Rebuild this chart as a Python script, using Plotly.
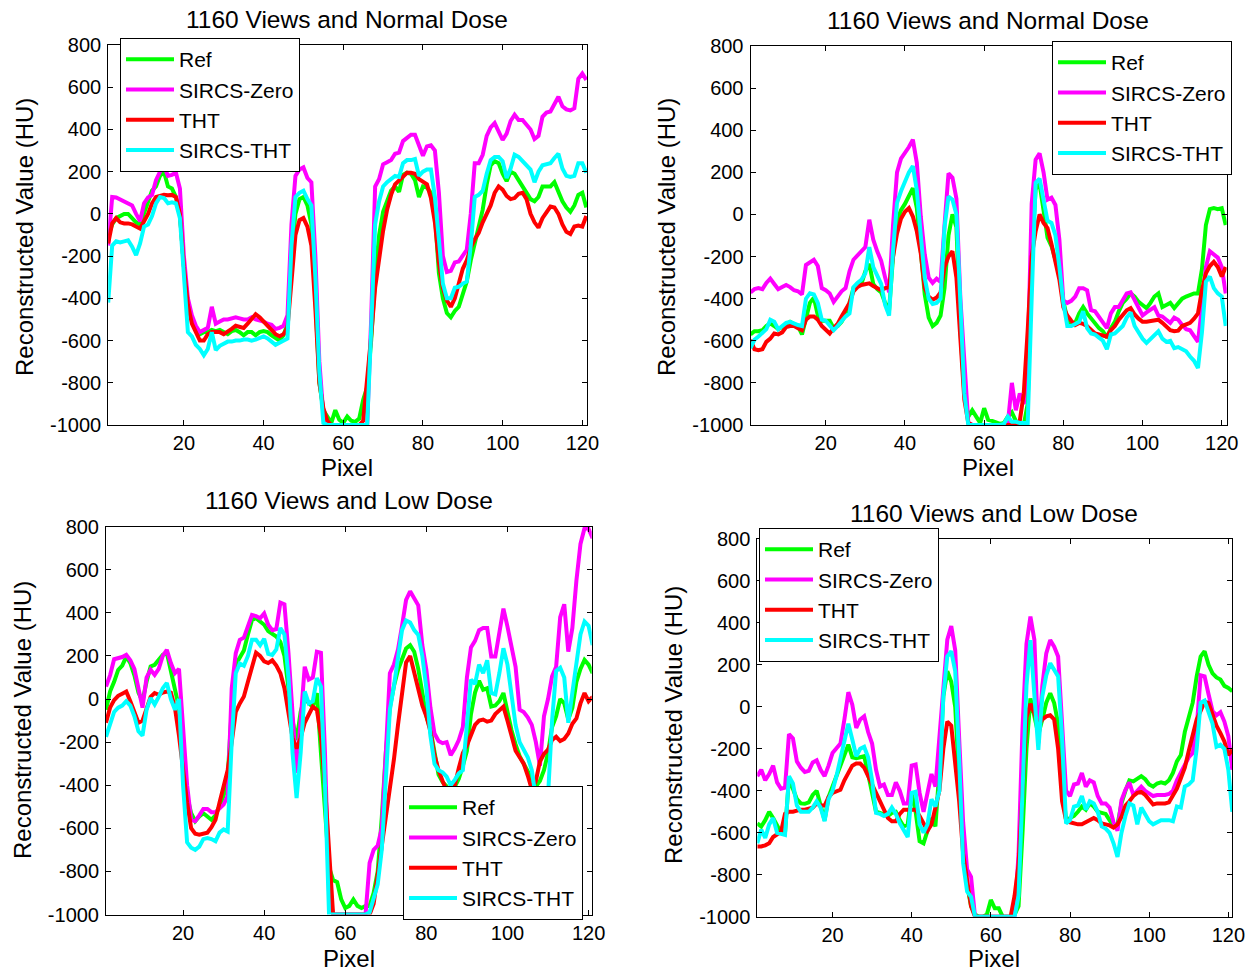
import plotly.graph_objects as go

# ---------------- data ----------------
pixels = list(range(1, 122))
series_names = ["Ref", "SIRCS-Zero", "THT", "SIRCS-THT"]
series_colors = ["#00FF00", "#FF00FF", "#FF0000", "#00FFFF"]
titles = ["1160 Views and Normal Dose", "1160 Views and Normal Dose",
          "1160 Views and Low Dose", "1160 Views and Low Dose"]
x_ticks = [20, 40, 60, 80, 100, 120]
y_ticks = [-1000, -800, -600, -400, -200, 0, 200, 400, 600, 800]
y_tick_labels = ["-1000", "-800", "-600", "-400", "-200", "0", "200", "400", "600", "800"]

# Panel 1: 1160 views, normal dose (top left)
p1_ref = [-100, -50, -20, -10, 0, 0, -20, -40, -50, 0, 60, 110, 130, 180, 200, 130, 120, 80, 0, -250,
          -420, -500, -550, -570, -560, -560, -550, -555, -550, -560, -570, -555, -550, -560, -575, -560, -560, -575, -560, -555,
          -560, -575, -590, -600, -575, -520, -200, 0, 70, 80, 40, -50, -400, -800, -930, -960, -990, -930, -975, -990,
          -960, -980, -985, -970, -880, -820, -600, -300, -100, 10, 60, 110, 130, 105, 185, 195, 190, 160, 80, 130,
          125, 100, 0, -280, -400, -470, -490, -460, -440, -380, -320, -220, -140, -70, 20, 140, 230, 250, 240, 190,
          155, 200, 190, 160, 130, 105, 70, 60, 80, 130, 130, 130, 150, 100, 60, 30, 10, 40, 90, 100, 30]
p1_zero = [-150, 80, 78, 68, 60, 52, 40, 0, -35, 50, 78, 90, 160, 200, 225, 180, 185, 195, 120, -200,
           -400, -480, -530, -560, -550, -540, -440, -520, -510, -500, -500, -495, -490, -495, -500, -500, -490, -500, -505, -510,
           -520, -525, -545, -540, -530, -480, -50, 180, 210, 220, 170, 150, -200, -700, -950, -1000, -1000, -1000, -1000, -1000,
           -1000, -1000, -1000, -1000, -1000, -1000, -500, 130, 165, 235, 245, 255, 285, 290, 345, 360, 375, 375, 330, 275,
           320, 325, 300, 100, -200, -275, -270, -230, -225, -200, -170, 0, 240, 240, 280, 370, 410, 430, 395, 350,
           380, 440, 470, 445, 445, 420, 400, 355, 370, 460, 480, 485, 520, 555, 510, 495, 490, 500, 640, 665, 635]
p1_tht = [-140, -45, -20, -40, -45, -45, -50, -60, -70, -35, 0, 50, 80, 85, 90, 88, 90, 80, 0, -250,
          -430, -520, -560, -600, -600, -570, -560, -560, -560, -570, -560, -545, -530, -535, -540, -520, -500, -475, -490, -510,
          -530, -550, -570, -580, -570, -540, -300, -100, -30, -20, -60, -150, -450, -800, -920, -980, -1000, -1000, -1000, -1000,
          -1000, -1000, -1000, -1000, -980, -800, -580, -350, -200, -80, 20, 90, 140, 160, 180, 195, 195, 190, 165, 150,
          140, 75, -40, -230, -350, -410, -440, -400, -330, -260, -220, -160, -120, -90, -40, 0, 40, 100, 130, 115,
          85, 70, 75, 95, 100, 70, 0, -40, -65, -20, 10, 35, 30, 0, -50, -85, -95, -60, -55, -60, -10]
p1_stht = [-420, -150, -130, -135, -130, -125, -155, -195, -140, -60, -50, -10, 50, 80, 75, 50, 55, 50, -20, -300,
           -560, -580, -620, -640, -670, -640, -560, -645, -625, -615, -605, -605, -600, -600, -595, -595, -600, -595, -585, -580,
           -590, -605, -620, -610, -600, -590, -150, 80, 100, 110, 70, 40, -300, -750, -990, -1000, -1000, -1000, -1000, -1000,
           -1000, -1000, -1000, -1000, -1000, -1000, -550, -50, 60, 130, 150, 165, 180, 175, 240, 255, 255, 260, 180, 200,
           210, 210, 80, -120, -330, -400, -400, -350, -345, -330, -320, -150, 80, 90, 110, 190, 255, 270, 270, 250,
           170, 215, 280, 270, 250, 225, 210, 150, 200, 230, 235, 240, 265, 285, 215, 180, 175, 180, 240, 240, 195]

# Panel 2: 1160 views, normal dose (top right)
p2_ref = [-570, -555, -555, -550, -530, -517, -530, -545, -535, -520, -510, -520, -530, -570, -490, -420, -395, -480, -505, -505,
          -505, -540, -530, -510, -475, -420, -350, -340, -330, -270, -235, -330, -355, -370, -420, -455, -200, -30, 20, 50,
          90, 125, 30, -180, -380, -490, -530, -515, -480, -350, -100, 0, -60, -550, -850, -960, -930, -960, -990, -920,
          -975, -980, -990, -995, -990, -960, -940, -980, -1000, -1000, -900, -200, 120, 145, 20, -110, -150, -220, -280, -410,
          -500, -525, -515, -470, -440, -470, -495, -515, -540, -555, -585, -540, -510, -460, -420, -400, -375, -390, -415, -430,
          -445, -420, -390, -375, -440, -430, -420, -445, -420, -400, -390, -380, -375, -375, -260, -50, 25, 30, 25, 30, -50]
p2_zero = [-370, -355, -350, -355, -325, -305, -330, -355, -345, -335, -345, -360, -365, -380, -240, -225, -215, -245, -350, -360,
           -375, -415, -390, -365, -350, -270, -215, -195, -175, -155, -25, -120, -175, -220, -300, -370, -50, 200, 265, 290,
           320, 355, 245, -10, -190, -300, -325, -305, -320, -50, 195, 175, 75, -400, -720, -990, -1000, -1000, -1000, -1000,
           -1000, -1000, -1000, -1000, -1000, -990, -800, -930, -850, -900, -700, 50, 260, 290, 200, 70, 80, 45, -120, -410,
           -420, -410, -390, -350, -350, -360, -455, -460, -485, -510, -540, -470, -440, -440, -405, -375, -370, -405, -445, -480,
           -465, -455, -440, -480, -485, -500, -515, -490, -500, -525, -545, -550, -575, -605, -440, -250, -175, -190, -205, -250, -375]
p2_tht = [-595, -640, -645, -640, -605, -590, -565, -570, -560, -535, -530, -530, -540, -550, -500, -485, -485, -500, -530, -550,
          -565, -540, -520, -485, -450, -420, -365, -345, -335, -330, -327, -340, -350, -360, -350, -345, -200, -90, -20, 13,
          30, -10, -80, -185, -350, -390, -405, -395, -370, -250, -200, -175, -300, -630, -880, -990, -1000, -1000, -1000, -1000,
          -1000, -1000, -1000, -1000, -1000, -1000, -1000, -1000, -980, -850, -550, -200, -80, 0, -40, -65, -140, -230, -310, -440,
          -480, -505, -525, -515, -520, -530, -550, -565, -570, -575, -580, -550, -530, -500, -475, -455, -445, -475, -495, -510,
          -510, -508, -503, -500, -515, -530, -550, -555, -552, -530, -520, -515, -495, -470, -360, -280, -245, -225, -250, -295, -250]
p2_stht = [-635, -595, -580, -565, -545, -500, -510, -545, -530, -515, -510, -520, -525, -530, -400, -375, -380, -420, -500, -505,
           -525, -550, -530, -505, -485, -470, -345, -325, -310, -280, -155, -250, -290, -330, -430, -480, -170, 55, 110, 160,
           200, 230, 115, -100, -300, -400, -425, -420, -400, -60, 85, 70, 0, -420, -850, -1000, -1000, -1000, -1000, -1000,
           -1000, -1000, -1000, -1000, -995, -960, -985, -985, -990, -990, -990, -400, 150, 170, 80, -30, -40, -100, -250, -420,
           -530, -530, -520, -510, -460, -540, -565, -570, -585, -600, -640, -570, -565, -550, -530, -490, -465, -530, -565, -590,
           -610, -590, -575, -555, -590, -605, -600, -635, -630, -640, -650, -675, -695, -730, -560, -320, -295, -350, -375, -390, -530]

# Panel 3: 1160 views, low dose (bottom left)
p3_ref = [-50, 35, 80, 135, 155, 197, 167, 110, 30, -10, 80, 151, 159, 180, 205, 215, 136, 40, -40, -250,
          -450, -530, -567, -545, -530, -545, -560, -540, -500, -450, -360, -50, 160, 190, 225, 300, 367, 375, 360, 345,
          315, 300, 290, 265, 200, 50, -100, -190, -60, 12, -20, -35, 28, -250, -550, -780, -840, -850, -930, -970,
          -960, -930, -960, -970, -960, -960, -900, -800, -550, -250, -40, 60, 135, 190, 235, 250, 220, 140, 40, -80,
          -140, -250, -350, -385, -405, -445, -410, -370, -310, -240, -70, 30, 85, 43, 50, -35, -30, -10, 28, -60,
          -145, -210, -265, -300, -335, -370, -405, -380, -330, -250, -130, -80, 0, -20, -95, -40, 80, 140, 182, 160, 120]
p3_zero = [58, 110, 185, 190, 195, 205, 180, 140, 50, -40, 100, 136, 112, 140, 200, 228, 167, 120, 140, -150,
           -400, -560, -567, -540, -510, -510, -525, -525, -510, -490, -450, 50, 213, 275, 285, 340, 390, 385, 375, 397,
           345, 320, 325, 448, 440, 213, -95, -343, -100, 150, 90, 100, 220, 215, -250, -900, -1000, -1000, -1000, -1000,
           -1000, -1000, -1000, -1000, -1000, -760, -700, -680, -600, -250, 120, 160, 230, 340, 460, 500, 470, 435, 250, 136,
           -40, -160, -195, -205, -200, -260, -230, -190, -130, 100, 240, 270, 320, 330, 330, 197, 197, 300, 420, 336,
           250, 150, -50, -60, -85, -120, -200, -310, -80, 0, 105, 150, 380, 440, 220, 330, 550, 720, 793, 790, 746]
p3_tht = [-110, -40, -5, 15, 25, 35, -10, -60, -110, -100, -40, 10, 28, 20, 30, 35, 30, -40, -170, -330,
          -480, -600, -625, -630, -625, -620, -595, -560, -480, -410, -330, -200, -60, -20, 12, 80, 150, 215, 200, 175,
          167, 180, 155, 120, 50, -60, -180, -230, -180, -110, -70, -35, -50, -170, -400, -700, -1000, -1000, -1000, -1000,
          -1000, -1000, -1000, -1000, -1000, -1000, -950, -820, -680, -550, -420, -280, -120, 30, 170, 200, 120, 58, -30, -80,
          -150, -260, -330, -380, -425, -435, -400, -320, -250, -215, -165, -120, -100, -95, -105, -100, -70, -50, -35, -100,
          -180, -240, -270, -300, -355, -420, -380, -290, -255, -235, -190, -175, -195, -185, -160, -115, -90, -20, 28, -10, 10]
p3_stht = [-175, -120, -60, -40, -30, -10, -30, -80, -150, -170, -50, 5, -25, 10, 50, 75, 0, -50, 0, -400,
           -665, -690, -700, -685, -650, -645, -650, -660, -620, -605, -615, -200, 120, 165, 155, 200, 275, 275, 250, 280,
           210, 205, 230, 330, 300, 100, -250, -460, -250, 35, -20, -10, 97, 58, -400, -1000, -1000, -1000, -1000, -1000,
           -1000, -1000, -1000, -1000, -1000, -990, -920, -860, -700, -400, -50, 60, 200, 320, 365, 355, 320, 298, 200, 50,
           -170, -300, -330, -340, -360, -400, -375, -345, -330, -100, 90, 70, 160, 120, 180, 28, 22, 120, 236, 160,
           30, -120, -200, -240, -270, -330, -460, -480, -440, -450, -100, 130, 145, 100, -110, 30, 160, 300, 360, 340, 250]

# Panel 4: 1160 views, low dose (bottom right)
p4_ref = [-555, -570, -540, -500, -530, -570, -600, -600, -340, -390, -440, -460, -462, -455, -420, -400, -470, -540, -430, -380,
          -330, -280, -230, -180, -240, -245, -240, -235, -320, -410, -500, -505, -515, -520, -505, -500, -540, -570, -560, -410,
          -500, -640, -650, -590, -530, -570, -300, 50, 170, 120, 0, -350, -650, -850, -950, -990, -1000, -1000, -990, -920,
          -960, -960, -1000, -1000, -1000, -990, -950, -600, -200, 40, -40, -130, -60, 20, 65, 18, -80, -350, -540, -530,
          -520, -500, -475, -490, -460, -475, -500, -505, -510, -540, -570, -560, -460, -400, -350, -355, -340, -330, -345, -370,
          -380, -365, -360, -365, -350, -315, -260, -230, -120, -40, 20, 145, 240, 265, 200, 160, 140, 130, 100, 90, 75]
p4_zero = [-330, -300, -350, -320, -280, -360, -390, -385, -130, -150, -260, -290, -310, -305, -265, -255, -300, -330, -280, -220,
           -197, -175, -60, 70, 10, -100, -60, -45, -120, -175, -300, -380, -370, -420, -420, -360, -400, -460, -460, -280,
           -275, -410, -500, -400, -320, -380, -150, 120, 320, 385, 270, -150, -550, -775, -810, -1000, -1000, -1000, -1000, -1000,
           -1000, -1000, -1000, -1000, -1000, -1000, -700, -100, 300, 430, 320, -173, 100, 255, 318, 287, 240, -50, -400, -425,
           -370, -365, -315, -380, -350, -360, -425, -460, -460, -480, -550, -590, -445, -395, -360, -420, -400, -380, -400, -410,
           -425, -420, -420, -420, -415, -400, -350, -310, -270, -240, -220, -100, 150, 145, 60, -20, -40, -25, -70, -140, -300]
p4_tht = [-665, -665, -660, -650, -620, -610, -595, -510, -500, -500, -495, -490, -490, -485, -480, -460, -470, -470, -430, -410,
          -400, -395, -350, -315, -280, -270, -270, -290, -330, -370, -420, -460, -500, -530, -545, -545, -510, -490, -490, -490,
          -490, -520, -560, -590, -560, -480, -400, -200, -70, -90, -250, -450, -700, -840, -950, -1000, -1000, -1000, -1000, -1000,
          -1000, -1000, -1000, -1000, -1000, -900, -750, -400, -50, 15, -30, -90, -60, -45, -40, -60, -200, -450, -540, -550,
          -555, -560, -560, -550, -540, -530, -540, -555, -560, -565, -575, -560, -525, -470, -450, -425, -410, -405, -420, -440,
          -465, -460, -460, -460, -455, -425, -390, -340, -290, -210, -140, -60, -20, 25, 18, -40, -90, -125, -165, -230, -205]
p4_stht = [-650, -585, -625, -560, -530, -600, -605, -610, -330, -365, -470, -500, -500, -500, -480, -450, -480, -545, -440, -400,
           -330, -250, -175, -80, -155, -235, -200, -190, -240, -350, -505, -510, -520, -510, -480, -510, -555, -590, -620, -410,
           -405, -560, -600, -560, -440, -475, -400, 50, 240, 265, 170, -250, -745, -880, -905, -1000, -1000, -1000, -1000, -1000,
           -1000, -1000, -1000, -1000, -1000, -1000, -900, -400, 100, 318, 50, -205, 50, 150, 208, 177, 145, -150, -555, -540,
           -475, -470, -425, -490, -450, -460, -500, -570, -580, -600, -650, -715, -600, -520, -460, -470, -560, -480, -510, -545,
           -560, -550, -540, -540, -540, -545, -475, -480, -380, -370, -350, -200, 20, 30, -20, -80, -190, -180, -200, -300, -500]

panels_data = [
    [p1_ref, p1_zero, p1_tht, p1_stht],
    [p2_ref, p2_zero, p2_tht, p2_stht],
    [p3_ref, p3_zero, p3_tht, p3_stht],
    [p4_ref, p4_zero, p4_tht, p4_stht],
]
for grp in panels_data:
    for s in grp:
        assert len(s) == 121, len(s)

# ---------------- layout geometry (pixels of the 1251x972 canvas) ----------------
W, H = 1251, 972
FONT = "Liberation Sans, Arial, Helvetica, sans-serif"

def px(v):
    return v / W

def py(v):
    return 1 - v / H

panel_geom = [
    dict(x0=108.2, x1=587.3, yt=45.0, yb=425.0, xmax=121.25,
         title=(347, 19), ylab=(25, 237), xlab=(347, 467),
         leg=dict(x=210, y=105, xanchor="center", yanchor="middle")),
    dict(x0=750.5, x1=1226.7, yt=46.0, yb=425.0, xmax=121.25,
         title=(988, 20), ylab=(667, 237), xlab=(988, 467),
         leg=dict(x=1142, y=108, xanchor="center", yanchor="middle")),
    dict(x0=106.0, x1=591.7, yt=526.7, yb=914.5, xmax=120.77,
         title=(349, 500), ylab=(22, 720), xlab=(349, 958),
         leg=dict(x=493, y=920, xanchor="center", yanchor="bottom")),
    dict(x0=757.3, x1=1232.3, yt=539.0, yb=916.7, xmax=121.0,
         title=(994, 513), ylab=(673, 725), xlab=(994, 958),
         leg=dict(x=849, y=595, xanchor="center", yanchor="middle")),
]

fig = go.Figure()
annotations = []
layout_axes = {}

for i, (grp, g) in enumerate(zip(panels_data, panel_geom)):
    n = i + 1
    xa = "x" if n == 1 else f"x{n}"
    ya = "y" if n == 1 else f"y{n}"
    leg = "legend" if n == 1 else f"legend{n}"
    for s, name, col in zip(grp, series_names, series_colors):
        fig.add_trace(go.Scatter(x=pixels, y=s, mode="lines", name=name,
                                 line=dict(color=col, width=4),
                                 xaxis=xa, yaxis=ya, legend=leg,
                                 hoverinfo="skip"))
    axis_common = dict(showline=True, linecolor="black", linewidth=1, mirror="ticks",
                       ticks="inside", ticklen=5, tickcolor="black", showgrid=False,
                       zeroline=False, automargin=False,
                       tickfont=dict(family=FONT, size=20, color="black"))
    layout_axes["xaxis" if n == 1 else f"xaxis{n}"] = dict(
        domain=[px(g["x0"]), px(g["x1"])], range=[1, g["xmax"]],
        tickvals=x_ticks, ticktext=[str(t) for t in x_ticks],
        anchor=ya, **axis_common)
    layout_axes["yaxis" if n == 1 else f"yaxis{n}"] = dict(
        domain=[py(g["yb"]), py(g["yt"])], range=[-1000, 800],
        tickvals=y_ticks, ticktext=y_tick_labels, ticklabelstandoff=2,
        anchor=xa, **axis_common)
    lg = g["leg"]
    layout_axes[leg] = dict(x=px(lg["x"]), y=py(lg["y"]), xanchor=lg["xanchor"], yanchor=lg["yanchor"],
                            bgcolor="white", bordercolor="black", borderwidth=1,
                            font=dict(family=FONT, size=21, color="black"),
                            itemwidth=48, tracegroupgap=0)
    annotations.append(dict(text=titles[i], x=px(g["title"][0]), y=py(g["title"][1]),
                            xref="paper", yref="paper", showarrow=False,
                            xanchor="center", yanchor="middle",
                            font=dict(family=FONT, size=24.5, color="black")))
    annotations.append(dict(text="Reconstructed Value (HU)", x=px(g["ylab"][0]), y=py(g["ylab"][1]),
                            xref="paper", yref="paper", showarrow=False, textangle=-90,
                            xanchor="center", yanchor="middle",
                            font=dict(family=FONT, size=24, color="black")))
    annotations.append(dict(text="Pixel", x=px(g["xlab"][0]), y=py(g["xlab"][1]),
                            xref="paper", yref="paper", showarrow=False,
                            xanchor="center", yanchor="middle",
                            font=dict(family=FONT, size=24, color="black")))

fig.update_layout(width=W, height=H, autosize=False,
                  margin=dict(l=0, r=0, t=0, b=0, pad=0, autoexpand=False),
                  paper_bgcolor="white", plot_bgcolor="white",
                  showlegend=True, annotations=annotations,
                  font=dict(family=FONT, color="black"),
                  **layout_axes)

fig.write_html("out.html", config={"displayModeBar": False},
               post_script="document.body.style.margin='0';document.body.style.overflow='hidden';")
